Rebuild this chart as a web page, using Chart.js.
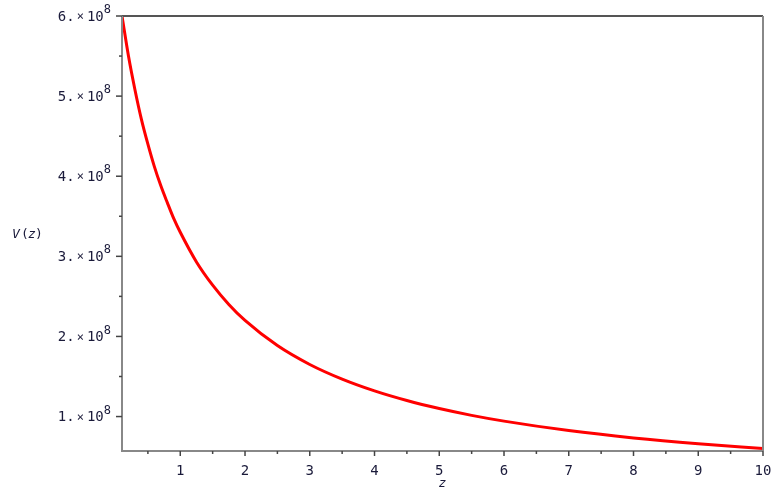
<!DOCTYPE html>
<html>
<head>
<meta charset="utf-8">
<script src="https://cdn.jsdelivr.net/npm/chart.js@4"></script>
<style>
  html, body { margin: 0; padding: 0; background: #fff; }
  #wrap { width: 778px; height: 498px; }
</style>
</head>
<body>
<div id="wrap"><canvas id="chart" width="778" height="498"></canvas></div>
<script>
// values
const zs = [0.1, 0.2, 0.3, 0.4, 0.5, 0.6, 0.7, 0.8, 0.9, 1, 1.25, 1.5, 1.75, 2, 2.5, 3, 3.5, 4, 4.5, 5, 5.5, 6, 7, 8, 9, 10]
const vs = [6.0e8, 5.5e8, 5.08e8, 4.71e8, 4.4e8, 4.12e8, 3.88e8, 3.67e8, 3.47e8, 3.3e8, 2.93e8, 2.64e8, 2.4e8, 2.2e8, 1.886e8, 1.65e8, 1.467e8, 1.32e8, 1.2e8, 1.1e8, 1.015e8, 0.943e8, 0.825e8, 0.733e8, 0.66e8, 0.6e8]
const yTickMantissa = {1: "1.", 2: "2.", 3: "3.", 4: "4.", 5: "5.", 6: "6."}
const yTickExponent = "8"

const FONT = "'DejaVu Sans Mono', monospace"
const INK = "#1a1a3a"

const maplePlugin = {
  id: "maple",
  afterDraw(chart) {
    const c = chart.ctx, a = chart.chartArea
    const xs = chart.scales.x, ys = chart.scales.y
    c.save()
    // frame: top darker, others gray
    c.lineWidth = 2
    c.strokeStyle = "#555"
    c.beginPath(); c.moveTo(a.left, a.top); c.lineTo(a.right, a.top); c.stroke()
    c.strokeStyle = "#888"
    c.beginPath(); c.moveTo(a.right, a.top); c.lineTo(a.right, a.bottom); c.stroke()
    c.beginPath(); c.moveTo(a.left, a.top); c.lineTo(a.left, a.bottom); c.lineTo(a.right, a.bottom); c.stroke()
    // ticks
    c.strokeStyle = "#444"
    c.lineWidth = 1.5
    xs.ticks.forEach(t => {
      const px = xs.getPixelForValue(t.value)
      const len = Number.isInteger(t.value) ? 5 : 3
      c.beginPath(); c.moveTo(px, a.bottom); c.lineTo(px, a.bottom + len); c.stroke()
    })
    c.fillStyle = INK
    ys.ticks.forEach(t => {
      const py = ys.getPixelForValue(t.value)
      const k = Math.round(t.value / 1e7) / 10
      const major = Number.isInteger(k)
      const len = major ? 6 : 3
      c.beginPath(); c.moveTo(a.left, py); c.lineTo(a.left - len, py); c.stroke()
      if (major && yTickMantissa[k]) {
        // label "k. × 10" with raised exponent
        c.textBaseline = "middle"
        c.textAlign = "right"
        const right = a.left - 11
        c.font = "12px " + FONT
        const ew = c.measureText(yTickExponent).width
        c.fillText(yTickExponent, right, py - 6)
        c.font = "14px " + FONT
        c.fillText("10", right - ew, py + 1)
        const tw = c.measureText("10").width
        c.font = "12px " + FONT
        c.fillText("\u00d7", right - ew - tw - 3, py + 1)
        const xw = c.measureText("\u00d7").width
        c.font = "14px " + FONT
        c.fillText(yTickMantissa[k], right - ew - tw - xw - 5, py + 1)
      }
    })
    // y title, horizontal
    c.textAlign = "left"
    c.textBaseline = "middle"
    c.font = "italic 13px " + FONT
    c.fillText("V", 12, 235)
    c.font = "13px " + FONT
    c.fillText("(", 21, 235)
    c.font = "italic 13px " + FONT
    c.fillText("z", 28, 235)
    c.font = "13px " + FONT
    c.fillText(")", 35, 235)
    // x title
    c.textAlign = "center"
    c.font = "italic 13px " + FONT
    c.fillText("z", (a.left + a.right) / 2, 484)
    c.restore()
  }
}

new Chart(document.getElementById("chart"), {
  type: "line",
  data: {
    datasets: [{
      data: zs.map((z, i) => ({x: z, y: vs[i]})),
      borderColor: "#ff0000",
      borderWidth: 3,
      pointRadius: 0,
      cubicInterpolationMode: "monotone",
      fill: false
    }]
  },
  options: {
    responsive: false,
    animation: false,
    layout: { padding: { top: 16, right: 15, left: 0, bottom: 0 } },
    plugins: { legend: { display: false }, tooltip: { enabled: false } },
    scales: {
      x: {
        type: "linear",
        min: 0.1, max: 10,
        afterBuildTicks: s => {
          const t = []
          for (let k = 1; k <= 20; k++) t.push({value: k / 2})
          s.ticks = t
        },
        afterFit: s => { s.height = 47; s.paddingLeft = 0; s.paddingRight = 0 },
        grid: { display: false, drawTicks: false },
        border: { display: false },
        ticks: {
          autoSkip: false, maxRotation: 0, padding: 12,
          color: INK, font: { family: FONT, size: 14 },
          callback: v => Number.isInteger(v) ? String(v) : ""
        }
      },
      y: {
        type: "linear",
        min: 0.57e8, max: 6e8,
        afterBuildTicks: s => {
          const t = []
          for (let k = 2; k <= 12; k++) t.push({value: k * 0.5e8})
          s.ticks = t
        },
        afterFit: s => { s.width = 122; s.paddingTop = 0; s.paddingBottom = 0 },
        grid: { display: false, drawTicks: false },
        border: { display: false },
        ticks: { display: true, color: "rgba(0,0,0,0)", callback: () => "" }
      }
    }
  },
  plugins: [maplePlugin]
})
</script>
</body>
</html>
